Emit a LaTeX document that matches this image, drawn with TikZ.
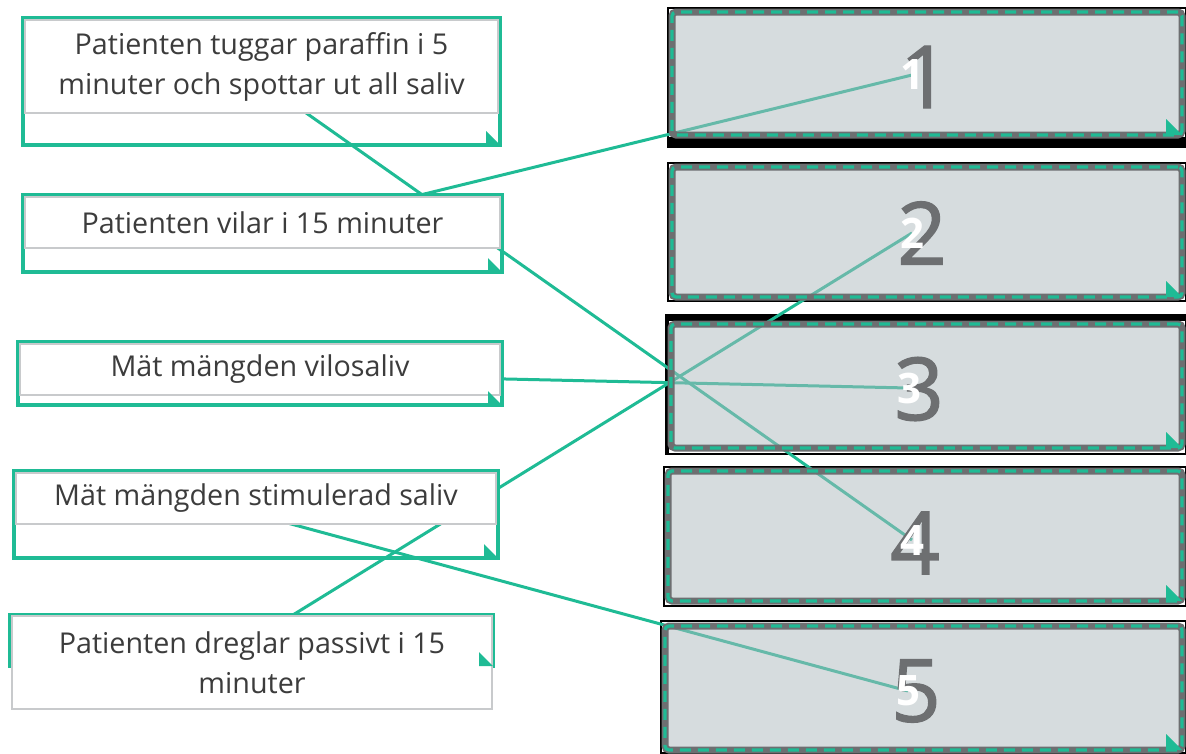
\documentclass[tikz,border=0pt]{standalone}
\usepackage{fontspec}
\setmainfont{Open Sans}
\newfontfamily\numfont[FakeBold=1.4]{Open Sans}
\usetikzlibrary{backgrounds}
\definecolor{mint}{HTML}{1FBB95}
\definecolor{ink}{HTML}{3C3C3C}
\definecolor{cardline}{HTML}{C8CACC}
\definecolor{slate}{HTML}{6D6F71}
\definecolor{slotfill}{HTML}{ADB9BD}

\begin{document}
\begin{tikzpicture}[x=1pt, y=-1pt,
  font=\fontsize{28.7}{40}\selectfont,
  frame/.style={draw=mint, line width=4pt, inner sep=0pt, outer sep=0pt, anchor=north west},
  card/.style={draw=cardline, line width=1.5pt, fill=white, text=ink, align=center,
      inner sep=0pt, outer sep=0pt, anchor=north west},
  slot/.style={rounded corners=4pt, draw=slate, line width=7pt, fill=slotfill, fill opacity=0.5,
      draw opacity=1, inner sep=0pt, outer sep=0pt, anchor=north west,
      postaction={draw=mint, draw opacity=1, line width=3.2pt, dash pattern=on 11pt off 7pt}},
  numeral/.style={text=slate, font=\numfont\fontsize{87}{87}\selectfont, inner sep=0pt},
  tag/.style={text=white, font=\bfseries\fontsize{42}{42}\selectfont, inner sep=0pt},
  rim/.style={draw=black, line width=2pt},
  link/.style={draw=mint, line width=3pt},
]
\useasboundingbox (0,0) rectangle (1186,753);

% left: the steps
\node[frame, minimum width=477pt, minimum height=127pt] (fa) at (23,18) {};
\node[card, minimum width=473pt, minimum height=93pt] (a) at (25,20)
   {Patienten tuggar paraffin i 5\\minuter och spottar ut all saliv};
\node[frame, minimum width=479pt, minimum height=77pt] (fb) at (23,195) {};
\node[card, minimum width=475pt, minimum height=51pt] (b) at (25,197) {Patienten vilar i 15 minuter};
\node[frame, minimum width=484pt, minimum height=63pt] (fc) at (18,342) {};
\node[card, minimum width=480pt, minimum height=51pt] (c) at (20,344) {Mät mängden vilosaliv};
\node[frame, minimum width=484pt, minimum height=87pt] (fd) at (14,471) {};
\node[card, minimum width=480pt, minimum height=51pt] (d) at (16,473) {Mät mängden stimulerad saliv};
\node[frame, minimum width=483pt, minimum height=51pt] (fe) at (10,615) {};
\node[card, minimum width=480pt, minimum height=93pt] (e) at (12,616)
   {Patienten dreglar passivt i 15\\minuter};
\foreach \f in {fa,fb,fc,fd,fe}
  \fill[mint] (\f.south east) -- ++(-14,0) -- ++(0,-14) -- cycle;

% right: the numbered slots
\node[slot, minimum width=510pt, minimum height=123pt] (s1) at (672,12) {};
\node[slot, minimum width=510pt, minimum height=130pt] (s2) at (672,167) {};
\node[slot, minimum width=511pt, minimum height=124pt] (s3) at (671,324) {};
\node[slot, minimum width=514pt, minimum height=130pt] (s4) at (668,471) {};
\node[slot, minimum width=517pt, minimum height=124pt] (s5) at (665,626) {};
\foreach \s in {s1,s2,s3,s4,s5}
  \fill[mint] (\s.south east) -- ++(-16,0) -- ++(0,-16) -- cycle;

\node[numeral] (n1) at (925,77) {1};
\node[numeral] (n2) at (922,233) {2};
\node[numeral] (n3) at (919,389) {3};
\node[numeral] (n4) at (915,543) {4};
\node[numeral] (n5) at (916,691) {5};
\node[tag] (w1) at (912,75) {1};
\node[tag] (w2) at (912,233) {2};
\node[tag] (w3) at (909,388) {3};
\node[tag] (w4) at (912,540) {4};
\node[tag] (w5) at (908,691) {5};

\begin{scope}[on background layer]
  \draw[rim] (668,8) rectangle (1186,147);
  \fill[black] (667,137) rectangle (1186,148);
  \draw[rim] (668,163) rectangle (1186,301);
  \draw[rim] (666,315) rectangle (1186,454);
  \fill[black] (665,314) rectangle (1186,321);
  \fill[black] (665,314) rectangle (669,455);
  \draw[rim] (664,467) rectangle (1186,606);
  \draw[rim] (661,621) rectangle (1186,753);
  % matches
  \draw[link] (fa.center) -- (w4.center);
  \draw[link] (fb.center) -- (w1.center);
  \draw[link] (fc.center) -- (w3.center);
  \draw[link] (fd.center) -- (w5.center);
  \draw[link] (fe.center) -- (w2.center);
\end{scope}
\end{tikzpicture}
\end{document}
